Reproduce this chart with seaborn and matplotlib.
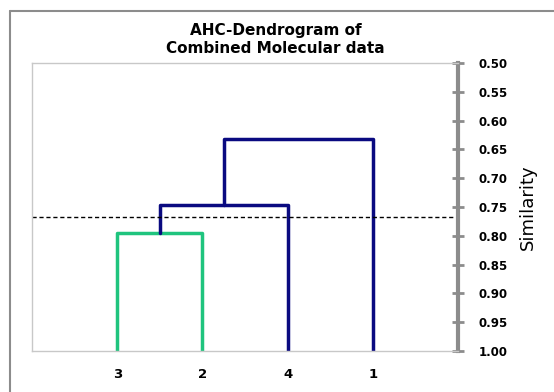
import numpy as np
import pandas as pd
import matplotlib.pyplot as plt
import seaborn as sns
from matplotlib.lines import Line2D

# leaves in dendrogram order and the merges (node ids: leaves 0..3, then new nodes 4, 5, 6)
leaf_labels = ['3', '2', '4', '1']
merge_pairs = [(0, 1), (4, 2), (5, 3)]
merge_heights = [0.795, 0.747, 0.632]
merge_colors = ['#1fc47e', '#0a0a80', '#0a0a80']
cutoff = 0.768
y_ticks = [0.50, 0.55, 0.60, 0.65, 0.70, 0.75, 0.80, 0.85, 0.90, 0.95, 1.00]

sns.set_style('white')
plt.rcParams['text.color'] = 'black'
plt.rcParams['xtick.labelcolor'] = 'black'
plt.rcParams['ytick.labelcolor'] = 'black'
plt.rcParams['axes.labelcolor'] = 'black'

# build the link segments (x position of each node, height of each node)
node_x = {i: i + 1 for i in range(len(leaf_labels))}
node_h = {i: 1.0 for i in range(len(leaf_labels))}
rows = []
for k, ((a, b), h) in enumerate(zip(merge_pairs, merge_heights)):
    new = len(leaf_labels) + k
    xs = [node_x[a], node_x[a], node_x[b], node_x[b]]
    ys = [node_h[a], h, h, node_h[b]]
    for j, (x, y) in enumerate(zip(xs, ys)):
        rows.append({'link': k, 'order': j, 'x': x, 'y': y})
    node_x[new] = (node_x[a] + node_x[b]) / 2
    node_h[new] = h
links = pd.DataFrame(rows)

fig = plt.figure(figsize=(5.54, 3.92), dpi=100)
ax = fig.add_axes([32 / 554, 41 / 392, 426 / 554, 288 / 392])

for k in range(len(merge_pairs)):
    d = links[links['link'] == k]
    sns.lineplot(data=d, x='x', y='y', sort=False, estimator=None,
                 color=merge_colors[k], linewidth=2.5, ax=ax)

ax.axhline(cutoff, color='black', linestyle=(0, (3, 2)), linewidth=1)

ax.set_xlim(0, len(leaf_labels) + 1)
ax.set_ylim(1.0, 0.5)
ax.set_xticks(range(1, len(leaf_labels) + 1))
ax.set_xticklabels(leaf_labels, fontweight='bold', fontsize=9.5)
ax.set_yticks(y_ticks)
ax.set_yticklabels([f'{v:.2f}' for v in y_ticks], fontweight='bold', fontsize=8.5)
ax.yaxis.tick_right()
ax.tick_params(axis='x', length=0, pad=12)
ax.tick_params(axis='y', direction='inout', length=8, width=2, color='#8c8c8c', pad=11)
ax.set_xlabel('')
ax.set_ylabel('Similarity', family=['Liberation Sans Narrow', 'DejaVu Sans'], fontsize=13,
              labelpad=8)
ax.yaxis.set_label_position('right')

for s in ['left', 'top', 'bottom']:
    ax.spines[s].set_color('#c8c8c8')
    ax.spines[s].set_linewidth(1)
ax.spines['right'].set_color('#8c8c8c')
ax.spines['right'].set_linewidth(3)

fig.text(0.497, 0.898, 'AHC-Dendrogram of\nCombined Molecular data', ha='center', va='center',
         fontweight='bold', fontsize=11, linespacing=1.25)

# outer frame
fig.add_artist(Line2D([10 / 554, 10 / 554], [0, 1 - 11 / 392], color='#8c8c8c', linewidth=1.5))
fig.add_artist(Line2D([10 / 554, 1], [1 - 11 / 392, 1 - 11 / 392], color='#8c8c8c', linewidth=1.5))

fig.savefig('out.png', dpi=100)
